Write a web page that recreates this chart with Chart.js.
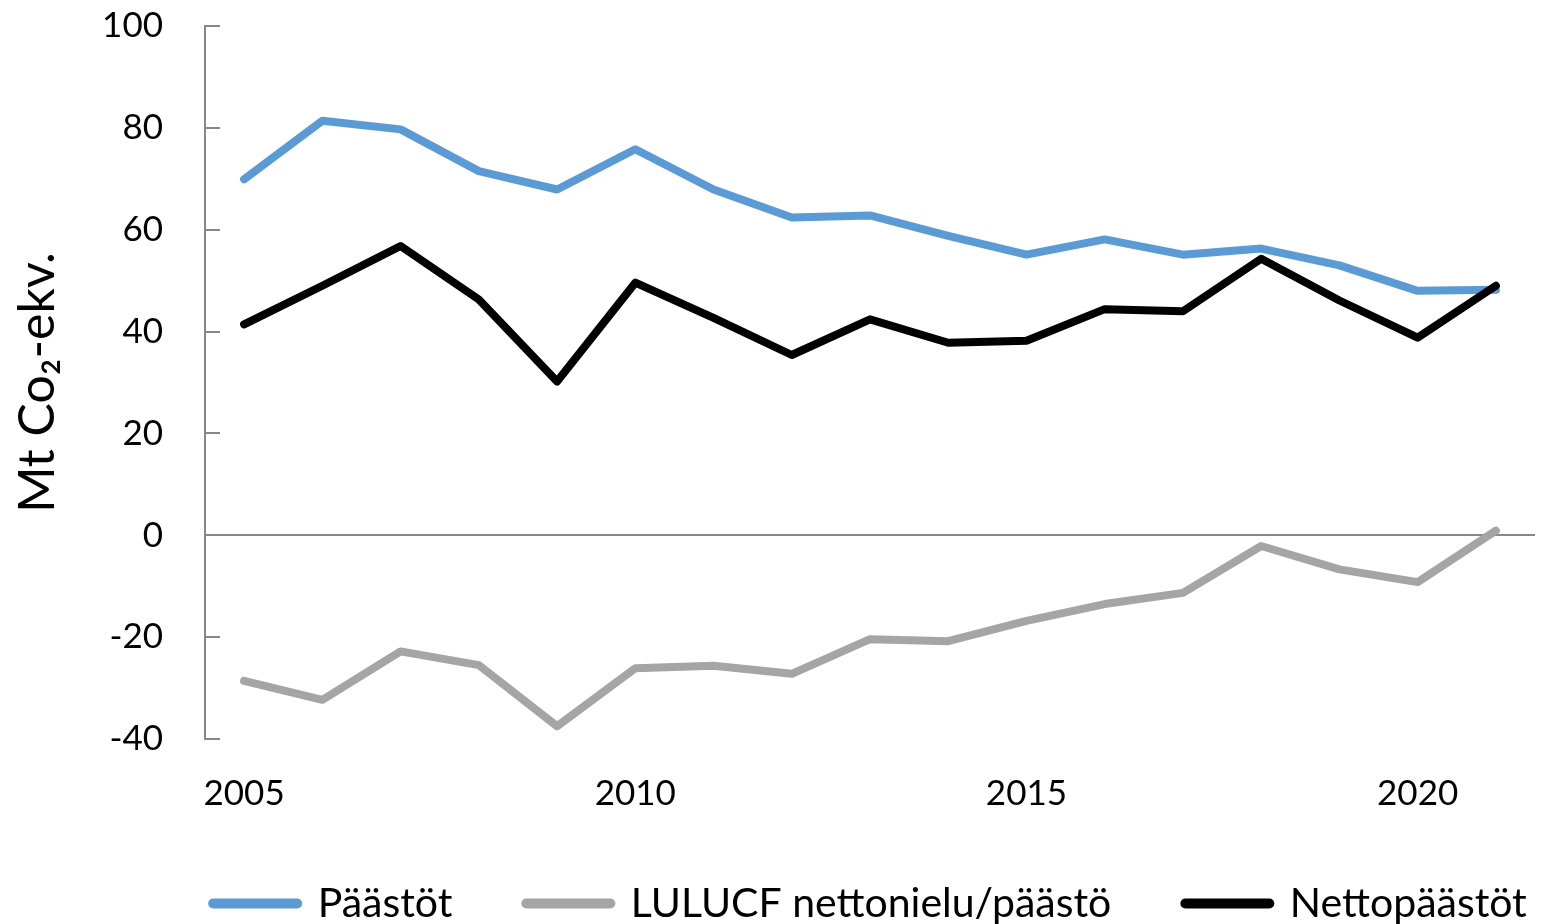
<!DOCTYPE html>
<html>
<head>
<meta charset="utf-8">
<script src="https://cdn.jsdelivr.net/npm/chart.js@4/dist/chart.umd.min.js"></script>
<style>
  html, body { margin: 0; padding: 0; background: #fff; overflow: hidden; }
  #wrap { position: relative; width: 1552px; height: 934px; }
</style>
</head>
<body>
<div id="wrap"><canvas id="c"></canvas></div>
<script>
const years = ['2005','2006','2007','2008','2009','2010','2011','2012','2013','2014','2015','2016','2017','2018','2019','2020','2021'];
const paastot = [69.9, 81.4, 79.7, 71.5, 67.9, 75.8, 67.9, 62.4, 62.8, 58.8, 55.1, 58.1, 55.1, 56.3, 53.0, 48.0, 48.2];
const lulucf = [-28.6, -32.3, -22.8, -25.5, -37.5, -26.1, -25.6, -27.2, -20.4, -20.8, -16.8, -13.5, -11.3, -2.1, -6.7, -9.2, 0.9];
const netto = [41.4, 49.0, 56.8, 46.3, 30.2, 49.6, 42.7, 35.4, 42.4, 37.8, 38.2, 44.4, 44.0, 54.3, 46.1, 38.8, 49.0];
const seriesNames = ['Päästöt', 'LULUCF nettonielu/päästö', 'Nettopäästöt'];
const yTicks = [-40, -20, 0, 20, 40, 60, 80, 100];
const yTitle = 'Mt Co₂-ekv.';

const FONT = 'Lato, "Noto Sans", sans-serif';
const FS = 35;
const LEG_FS = 41;
const LEG_PAD = 74;
const TITLE_FS = 50;
const AXIS = '#878787';
const colors = ['#5B9BD5', '#A5A5A5', '#000000'];

const mk = (i, data, order) => ({
  label: seriesNames[i],
  data: data,
  borderColor: colors[i],
  backgroundColor: colors[i],
  borderWidth: 8,
  borderCapStyle: 'round',
  borderJoinStyle: 'round',
  pointRadius: 0,
  pointHoverRadius: 0,
  tension: 0,
  fill: false,
  order: order
});

// short inward tick marks on the value axis
const yTickMarks = {
  id: 'yTickMarks',
  beforeDatasetsDraw(chart) {
    const s = chart.scales.y;
    const ctx = chart.ctx;
    ctx.save();
    ctx.strokeStyle = AXIS;
    ctx.lineWidth = 2;
    s.ticks.forEach(t => {
      const y = Math.round(s.getPixelForValue(t.value));
      ctx.beginPath();
      ctx.moveTo(s.right - 1, y);
      ctx.lineTo(s.right + 15, y);
      ctx.stroke();
    });
    ctx.restore();
  }
};

// center the legend row under the plot area
const legendCenter = {
  id: 'legendCenter',
  afterLayout(chart) {
    const lg = chart.legend;
    if (!lg) return;
    const c = (chart.chartArea.left + chart.chartArea.right) / 2;
    lg.left = c - 900;
    lg.right = c + 900;
  }
};

new Chart(document.getElementById('c'), {
  type: 'line',
  data: {
    labels: years,
    datasets: [mk(0, paastot, 3), mk(1, lulucf, 2), mk(2, netto, 1)]
  },
  plugins: [yTickMarks, legendCenter],
  options: {
    responsive: true,
    maintainAspectRatio: false,
    animation: false,
    events: [],
    layout: { padding: { left: 0, right: 17, top: 26, bottom: 0 } },
    plugins: {
      tooltip: { enabled: false },
      legend: {
        position: 'bottom',
        fullSize: true,
        labels: {
          font: { family: FONT, size: LEG_FS },
          color: '#000',
          usePointStyle: true,
          pointStyle: 'line',
          pointStyleWidth: 84,
          padding: LEG_PAD,
          sort: (a, b) => a.datasetIndex - b.datasetIndex,
          generateLabels: (chart) => chart.data.datasets.map((ds, i) => ({
            text: ds.label,
            fillStyle: ds.borderColor,
            strokeStyle: ds.borderColor,
            lineWidth: 10,
            lineCap: 'round',
            pointStyle: 'line',
            hidden: false,
            fontColor: '#000',
            datasetIndex: i
          }))
        }
      }
    },
    scales: {
      x: {
        type: 'category',
        offset: true,
        border: { display: false },
        grid: { display: false, drawTicks: false },
        ticks: {
          autoSkip: false,
          maxRotation: 0,
          minRotation: 0,
          padding: 34,
          color: '#000',
          font: { family: FONT, size: FS },
          callback: function (v, i) {
            const y = years[i];
            return (parseInt(y, 10) % 5 === 0) ? y : '';
          }
        },
        afterFit: (s) => { s.height = 934 - 739 - (LEG_FS + LEG_PAD + 10); }
      },
      y: {
        min: yTicks[0],
        max: yTicks[yTicks.length - 1],
        afterBuildTicks: (s) => { s.ticks = yTicks.map(v => ({ value: v })); },
        border: { display: true, color: AXIS, width: 2 },
        grid: {
          drawOnChartArea: true,
          drawTicks: false,
          tickLength: 0,
          lineWidth: 2,
          color: (ctx) => (ctx.tick && ctx.tick.value === 0) ? AXIS : 'rgba(0,0,0,0)'
        },
        ticks: {
          padding: 42,
          color: '#000',
          font: { family: FONT, size: FS }
        },
        title: {
          display: true,
          text: yTitle,
          color: '#000',
          font: { family: FONT, size: TITLE_FS },
          padding: { top: 8, bottom: 0 }
        },
        afterFit: (s) => { s.width = 205; s.paddingTop = 0; s.paddingBottom = 0; }
      }
    }
  }
});
</script>
</body>
</html>
